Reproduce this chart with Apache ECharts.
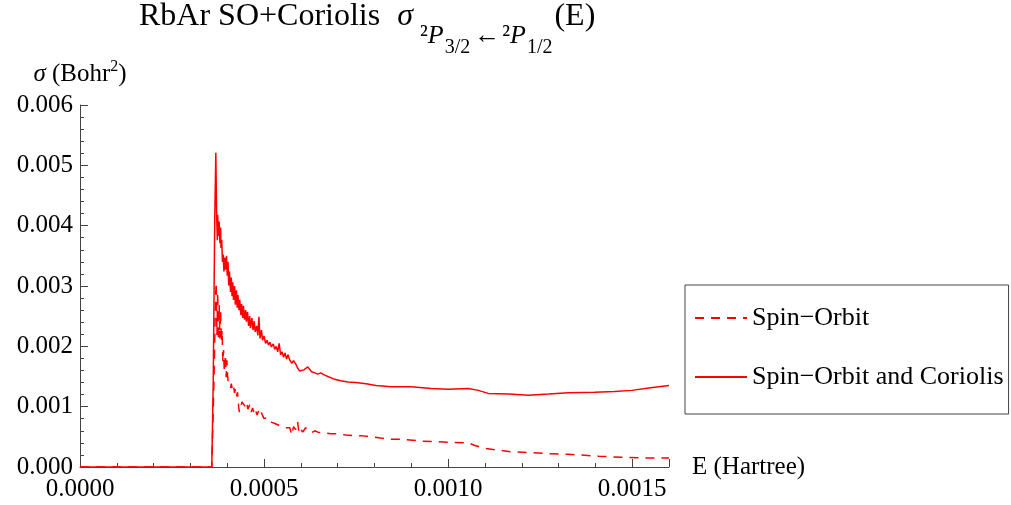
<!DOCTYPE html>
<html>
<head>
<meta charset="utf-8">
<script src="https://cdn.jsdelivr.net/npm/echarts@6/dist/echarts.min.js"></script>
<style>
html,body{margin:0;padding:0;background:#fff;}
#chart{width:1011px;height:505px;}
</style>
</head>
<body>
<div id="chart"></div>
<script>
// Spin-Orbit and Coriolis (solid)
const E_SOC = [0,
0.000358,0.000362,0.000366,0.000369,0.000371,0.000373,0.000374,0.000376,0.000378,0.000380,
0.000382,0.000383,0.000385,0.000387,0.000389,0.000391,0.000393,0.000395,0.000398,0.000400,
0.000402,0.000404,0.000406,0.000409,0.000411,0.000413,0.000415,0.000417,0.000420,0.000422,
0.000425,0.000427,0.000429,0.000432,0.000434,0.000437,0.000439,0.000442,0.000444,0.000447,
0.000450,0.000452,0.000455,0.000458,0.000461,0.000463,0.000467,0.000470,0.000473,0.000476,
0.000480,0.000483,0.000486,0.000489,0.000493,0.000496,0.000500,0.000504,0.000508,0.000512,
0.000516,0.000520,0.000525,0.000529,0.000533,0.000537,0.000541,0.000545,0.000549,0.000553,
0.000557,0.000561,0.000565,0.000570,0.000575,0.000580,0.000586,0.000591,0.000597,0.000602,
0.000608,0.000613,0.000619,0.000624,0.000629,0.000638,0.000646,0.000654,0.000658,0.000662,
0.000673,0.000689,0.000708,0.000728,0.000749,0.000777,0.000804,0.000845,0.000899,0.000954,
0.001000,0.001055,0.001082,0.001109,0.001164,0.001218,0.001273,0.001327,0.001398,0.001452,
0.001499,0.001545,0.001600];
const S_SOC = [0,
0,0.00144,0.00410,0.00521,0.00423,0.00376,0.00418,0.00383,0.00407,0.00371,
0.00397,0.00363,0.00376,0.00340,0.00352,0.00324,0.00347,0.00327,0.00350,0.00317,
0.00340,0.00301,0.00324,0.00290,0.00314,0.00283,0.00306,0.00277,0.00300,0.00269,
0.00293,0.00264,0.00285,0.00260,0.00277,0.00252,0.00270,0.00247,0.00267,0.00244,
0.00260,0.00241,0.00257,0.00234,0.00250,0.00230,0.00247,0.00227,0.00242,0.00224,
0.00234,0.00218,0.00249,0.00213,0.00227,0.00210,0.00217,0.00205,0.00210,0.00202,
0.00207,0.00199,0.00204,0.00195,0.00200,0.00191,0.00205,0.00186,0.00191,0.00182,
0.00189,0.00179,0.00186,0.00177,0.00172,0.00176,0.00171,0.00164,0.00159,0.00161,
0.00161,0.00164,0.00166,0.00163,0.00158,0.00156,0.00154,0.00156,0.00159,0.00153,
0.00150,0.00146,0.00143,0.00141,0.00140,0.00138,0.00135,0.00133,0.00133,0.00130,
0.00129,0.00130,0.00127,0.00122,0.00121,0.00119,0.00121,0.00123,0.00124,0.00125,
0.00127,0.00131,0.00135];

// Spin-Orbit only (dashed)
const E_SO = [0,
0.000358,0.000364,0.000368,0.000370,0.000372,0.000374,0.000376,0.000378,0.000380,0.000382,
0.000384,0.000386,0.000388,0.000390,0.000392,0.000395,0.000397,0.000399,0.000401,0.000403,
0.000406,0.000409,0.000411,0.000414,0.000417,0.000420,0.000422,0.000425,0.000428,0.000431,
0.000433,0.000436,0.000440,0.000444,0.000448,0.000452,0.000456,0.000461,0.000465,0.000469,
0.000473,0.000477,0.000481,0.000485,0.000489,0.000493,0.000499,0.000504,0.000510,0.000515,
0.000520,0.000526,0.000531,0.000537,0.000542,0.000548,0.000553,0.000559,0.000564,0.000570,
0.000575,0.000580,0.000586,0.000591,0.000595,0.000600,0.000605,0.000613,0.000621,0.000629,
0.000638,0.000649,0.000662,0.000681,0.000700,0.000722,0.000741,0.000763,0.000790,0.000817,
0.000845,0.000872,0.000926,0.001000,0.001055,0.001071,0.001098,0.001136,0.001172,0.001226,
0.001273,0.001327,0.001409,0.001471,0.001545,0.001600];
const S_SO = [0,
0,0.00144,0.00277,0.00306,0.00219,0.00290,0.00210,0.00269,0.00213,0.00260,
0.00207,0.00227,0.00174,0.00194,0.00158,0.00186,0.00149,0.00177,0.00151,0.00138,
0.00139,0.00131,0.00138,0.00128,0.00134,0.00123,0.00129,0.00117,0.00124,0.00099,
0.00091,0.00098,0.00108,0.00111,0.00101,0.00108,0.00096,0.00103,0.00091,0.00098,
0.00088,0.00094,0.00086,0.00093,0.00085,0.00090,0.00081,0.00078,0.00081,0.00075,
0.00078,0.00073,0.00076,0.00070,0.00073,0.00067,0.00070,0.00065,0.00068,0.00065,
0.00053,0.00067,0.00062,0.00075,0.00056,0.00062,0.00058,0.00065,0.00060,0.00057,
0.00060,0.00057,0.00057,0.00055,0.00055,0.00053,0.00052,0.00052,0.00050,0.00048,
0.00046,0.00046,0.00043,0.00041,0.00040,0.00036,0.00031,0.00028,0.00025,0.00024,
0.00022,0.00021,0.00018,0.00016,0.00015,0.00015];

const SERIES_NAMES = ['Spin\u2212Orbit', 'Spin\u2212Orbit and Coriolis'];
const X_MIN = 0, X_MAX = 0.0016, X_MAJOR = 0.0005, X_MINOR = 0.0001;
const Y_MIN = 0, Y_MAX = 0.006, Y_MAJOR = 0.001, Y_MINOR = 0.0002;

const FONT = "'Liberation Serif', 'DejaVu Serif', serif";
const AXIS_COLOR = '#444';

function zip(a, b) { return a.map((v, i) => [v, b[i]]); }

const chart = echarts.init(document.getElementById('chart'), null, {renderer: 'canvas'});
const grid = {left: 80, right: 342, top: 105, bottom: 38, containLabel: false};

function tok(size, extra) {
  return Object.assign({fontFamily: FONT, fontSize: size, fontWeight: 'normal', color: '#000', verticalAlign: 'bottom'}, extra || {});
}

const option = {
  animation: false,
  backgroundColor: '#fff',
  title: {
    left: 139, top: 1, padding: 0,
    text: '{m|RbAr SO+Coriolis}{s|\u03c3}{sup|²}{subi|P}{ss|3/2}{arr|\u2190}{sup|²}{subi|P}{ss|1/2}{m|(E)}',
    textStyle: {
      fontFamily: FONT, fontSize: 32, fontWeight: 'normal', color: '#000',
      rich: {
        m: tok(32, {padding: [0, 0, 25, 0]}),
        s: tok(32, {fontStyle: 'italic', padding: [0, 7, 25, 17]}),
        sup: tok(26, {padding: [0, 0, 9, 0]}),
        subi: tok(26, {fontStyle: 'italic', padding: [0, 1, 9, 0]}),
        arr: tok(26, {padding: [0, 2, 9, 2]}),
        ss: tok(20, {padding: [0, 2, 0, 0]})
      }
    }
  },
  legend: {
    orient: 'vertical',
    left: 685, top: 285,
    padding: [19, 5, 23, 9],
    itemGap: 31,
    itemWidth: 52, itemHeight: 14,
    borderColor: '#444', borderWidth: 1,
    itemStyle: {color: 'rgba(0,0,0,0)', borderColor: 'rgba(0,0,0,0)', borderWidth: 0},
    textStyle: {fontFamily: FONT, fontSize: 26, color: '#000', lineHeight: 28},
    data: SERIES_NAMES
  },
  grid: grid,
  xAxis: [
    {
      type: 'value', min: X_MIN, max: X_MAX, interval: X_MAJOR,
      name: 'E (Hartree)', nameLocation: 'end', nameGap: 23,
      nameTextStyle: {fontFamily: FONT, fontSize: 25, color: '#000', verticalAlign: 'middle'},
      axisLine: {show: true, lineStyle: {color: AXIS_COLOR, width: 1}},
      axisTick: {show: true, inside: true, length: 8, lineStyle: {color: AXIS_COLOR}},
      axisLabel: {
        show: true, margin: 10, fontFamily: FONT, fontSize: 25, color: '#000',
        formatter: v => (Math.abs(v / X_MAJOR - Math.round(v / X_MAJOR)) < 1e-6) ? v.toFixed(4) : ''
      },
      splitLine: {show: false}
    },
    {
      type: 'value', min: X_MIN, max: X_MAX, interval: X_MINOR, position: 'bottom',
      axisLine: {show: false},
      axisTick: {show: true, inside: true, length: 4, lineStyle: {color: AXIS_COLOR}},
      axisLabel: {show: false},
      splitLine: {show: false}
    }
  ],
  yAxis: [
    {
      type: 'value', min: Y_MIN, max: Y_MAX, interval: Y_MAJOR,
      name: '{s|\u03c3} {n|(Bohr}{sup|2}{n|)}', nameLocation: 'end', nameGap: 16,
      nameTextStyle: {
        fontFamily: FONT, fontSize: 25, color: '#000',
        rich: {
          s: {fontFamily: FONT, fontSize: 25, fontStyle: 'italic', color: '#000'},
          n: {fontFamily: FONT, fontSize: 25, color: '#000'},
          sup: {fontFamily: FONT, fontSize: 16, color: '#000', padding: [0, 0, 14, 0]}
        }
      },
      axisLine: {show: true, lineStyle: {color: AXIS_COLOR, width: 1}},
      axisTick: {show: true, inside: true, length: 8, lineStyle: {color: AXIS_COLOR}},
      axisLabel: {show: true, margin: 7, fontFamily: FONT, fontSize: 25, color: '#000',
        formatter: v => v.toFixed(3)},
      splitLine: {show: false}
    },
    {
      type: 'value', min: Y_MIN, max: Y_MAX, interval: Y_MINOR, position: 'left',
      axisLine: {show: false},
      axisTick: {show: true, inside: true, length: 4, lineStyle: {color: AXIS_COLOR}},
      axisLabel: {show: false},
      splitLine: {show: false}
    }
  ],
  series: [
    {
      name: SERIES_NAMES[0], type: 'line', xAxisIndex: 0, yAxisIndex: 0,
      data: zip(E_SO, S_SO), symbol: 'none', showSymbol: false,
      lineStyle: {color: '#ff0000', width: 1.5, type: [9, 7]},
      itemStyle: {color: '#ff0000'}
    },
    {
      name: SERIES_NAMES[1], type: 'line', xAxisIndex: 0, yAxisIndex: 0,
      data: zip(E_SOC, S_SOC), symbol: 'none', showSymbol: false,
      lineStyle: {color: '#ff0000', width: 1.5, type: 'solid'},
      itemStyle: {color: '#ff0000'}
    }
  ]
};
chart.setOption(option);
</script>
</body>
</html>
